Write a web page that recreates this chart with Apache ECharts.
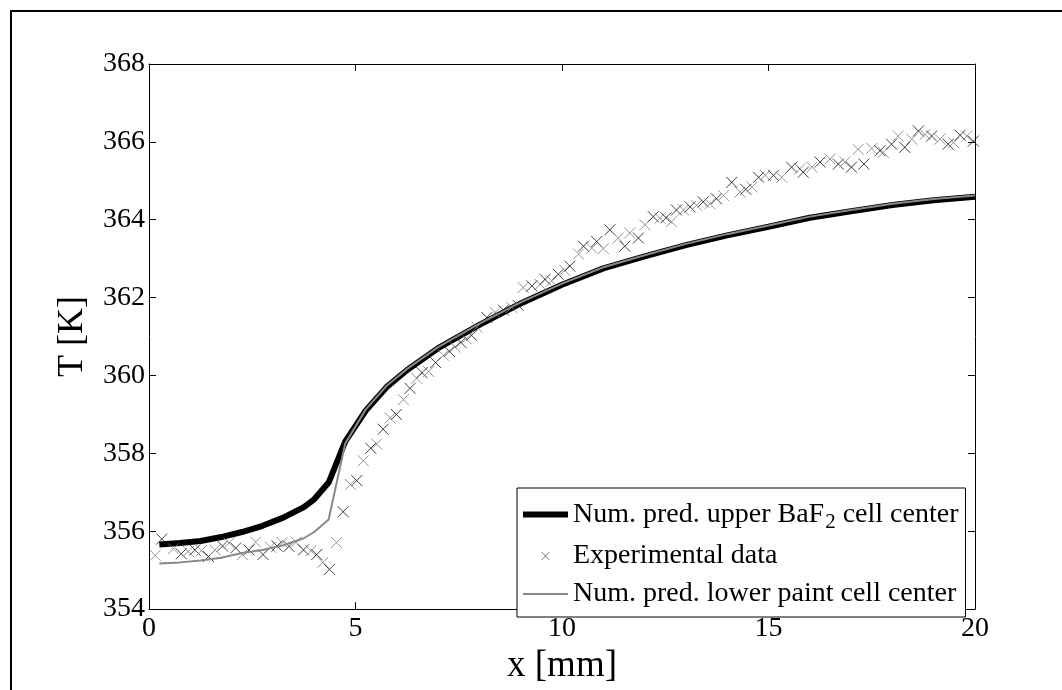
<!DOCTYPE html>
<html>
<head>
<meta charset="utf-8">
<script src="https://cdn.jsdelivr.net/npm/echarts@6/dist/echarts.min.js"></script>
<style>
html,body{margin:0;padding:0;background:#fff;}
#chart{width:1062px;height:690px;}
</style>
</head>
<body>
<div id="chart"></div>
<script>
// ---- data ----
var predX  = [0.25,0.75,1.25,1.75,2.25,2.75,3.25,3.75,4.0,4.35,4.75,5.25,5.75,6.25,7,8,9,10,11,12,13,14,15,16,17,18,19,20];
var upperT = [355.66,355.70,355.75,355.85,355.98,356.14,356.35,356.62,356.82,357.25,358.30,359.10,359.70,360.14,360.70,361.30,361.85,362.33,362.75,363.06,363.35,363.60,363.82,364.05,364.22,364.38,364.50,364.59];
var lowerT = [355.17,355.20,355.25,355.32,355.44,355.52,355.64,355.82,355.98,356.30,358.25,359.13,359.73,360.17,360.73,361.33,361.88,362.36,362.78,363.09,363.38,363.63,363.85,364.08,364.25,364.41,364.53,364.62];
var expX = [0.15,0.31,0.59,0.78,0.95,1.11,1.27,1.44,1.60,1.78,1.94,2.10,2.26,2.42,2.58,2.76,2.94,3.10,3.22,3.39,3.56,3.74,3.92,4.06,4.21,4.37,4.54,4.70,4.88,5.03,5.19,5.37,5.51,5.67,5.84,5.99,6.16,6.32,6.48,6.61,6.77,6.94,7.13,7.27,7.41,7.55,7.68,7.81,7.94,8.18,8.38,8.58,8.78,8.94,9.06,9.27,9.47,9.59,9.75,9.91,10.07,10.19,10.40,10.52,10.72,10.84,11.00,11.16,11.36,11.52,11.64,11.85,12.01,12.21,12.37,12.52,12.65,12.77,12.94,13.10,13.26,13.42,13.58,13.74,13.91,14.11,14.31,14.45,14.60,14.76,14.92,15.12,15.32,15.56,15.76,15.84,16.05,16.25,16.49,16.69,16.85,17.01,17.17,17.31,17.50,17.70,17.78,17.98,18.14,18.30,18.47,18.63,18.79,18.95,19.15,19.35,19.48,19.64,19.80,19.96];
var expT = [355.38,355.80,355.55,355.42,355.48,355.52,355.50,355.35,355.52,355.62,355.70,355.57,355.40,355.52,355.72,355.40,355.59,355.62,355.71,355.61,355.72,355.52,355.50,355.40,355.20,355.02,355.71,356.50,357.20,357.30,357.81,358.13,358.24,358.62,358.91,359.00,359.38,359.67,359.93,360.07,360.10,360.33,360.52,360.62,360.73,360.85,360.94,361.03,361.24,361.49,361.62,361.68,361.75,361.80,362.26,362.30,362.34,362.47,362.43,362.60,362.70,362.81,363.12,363.32,363.27,363.44,363.26,363.74,363.53,363.32,363.66,363.53,363.87,364.08,364.04,364.05,363.95,364.25,364.25,364.33,364.37,364.46,364.41,364.54,364.62,364.96,364.71,364.78,364.84,365.09,365.14,365.14,365.09,365.35,365.31,365.22,365.35,365.48,365.56,365.43,365.48,365.35,365.81,365.43,365.83,365.77,365.73,365.94,366.15,365.86,366.07,366.28,366.19,366.15,366.07,365.94,365.98,366.17,366.15,366.02];
var xTicks = {min:0, max:20, interval:5};
var yTicks = {min:354, max:368, interval:2};
var nameUpper = 'Num. pred. upper BaF2 cell center';
var nameExp = 'Experimental data';
var nameLower = 'Num. pred. lower paint cell center';
var xTitle = 'x [mm]';
var yTitle = 'T [K]';

function pairs(xs, ys){ return xs.map(function(x,i){ return [x, ys[i]]; }); }

var FONT = 'Liberation Serif';
var chart = echarts.init(document.getElementById('chart'), null, {renderer:'canvas'});

var expData = expX.map(function(x,i){
  return {value:[x, expT[i]], itemStyle:{borderColor: (i % 2 === 0) ? '#7a7a7a' : '#111'}};
});

var crossPath = 'path://M0,0L10,10M10,0L0,10';

var axisCommon = {
  type:'value',
  axisLine:{show:true, onZero:false, lineStyle:{color:'#000', width:1}},
  axisTick:{show:true, inside:true, length:7, lineStyle:{color:'#000', width:1}},
  splitLine:{show:false}
};

var option = {
  animation:false,
  backgroundColor:'#fff',
  grid:{left:149, right:87, top:64, bottom:75, containLabel:false},
  graphic:[{
    type:'rect', silent:true, z:-1,
    shape:{x:11, y:11, width:1200, height:900},
    style:{fill:'none', stroke:'#000', lineWidth:2}
  }],
  xAxis:[
    Object.assign({}, axisCommon, {
      position:'bottom', min:xTicks.min, max:xTicks.max, interval:xTicks.interval,
      name:xTitle, nameLocation:'middle', nameGap:31,
      nameTextStyle:{fontFamily:FONT, fontSize:37, color:'#000'},
      axisLabel:{fontFamily:FONT, fontSize:28, color:'#000', margin:6}
    }),
    Object.assign({}, axisCommon, {
      position:'top', min:xTicks.min, max:xTicks.max, interval:xTicks.interval,
      axisLabel:{show:false}
    })
  ],
  yAxis:[
    Object.assign({}, axisCommon, {
      position:'left', min:yTicks.min, max:yTicks.max, interval:yTicks.interval,
      name:yTitle, nameLocation:'middle', nameGap:58, nameRotate:90,
      nameTextStyle:{fontFamily:FONT, fontSize:36, color:'#000'},
      axisLabel:{fontFamily:FONT, fontSize:28, color:'#000', margin:4}
    }),
    Object.assign({}, axisCommon, {
      position:'right', min:yTicks.min, max:yTicks.max, interval:yTicks.interval,
      axisLabel:{show:false}
    })
  ],
  legend:{
    orient:'vertical', left:517, top:488,
    padding:[8,7,8,6], itemGap:8, itemWidth:45, itemHeight:14,
    borderColor:'#000', borderWidth:1, backgroundColor:'#fff',
    selectedMode:false,
    textStyle:{fontFamily:FONT, fontSize:28, color:'#000', lineHeight:30,
      rich:{
        a:{fontFamily:FONT, fontSize:28, color:'#000', lineHeight:30},
        s:{fontFamily:FONT, fontSize:21, color:'#000', lineHeight:30, padding:[16,0,0,1]}
      }
    },
    formatter:function(n){
      if (n === nameUpper) return '{a|Num. pred. upper BaF}{s|2}{a| cell center}';
      return n;
    },
    data:[
      {name:nameUpper, icon:'path://M0,0h45v6h-45z', itemStyle:{color:'#000', borderWidth:0}},
      {name:nameExp, icon:'path://M3,3L11,11M11,3L3,11M0,0M14,14', itemStyle:{color:'none', borderColor:'#555', borderWidth:1}},
      {name:nameLower, icon:'path://M0,0h45v2h-45z', itemStyle:{color:'#888', borderWidth:0}}
    ]
  },
  series:[
    {
      name:nameUpper, type:'line', xAxisIndex:0, yAxisIndex:0,
      data:pairs(predX, upperT), showSymbol:false, symbol:'none',
      lineStyle:{color:'#000', width:6}, itemStyle:{color:'#000'}, z:2
    },
    {
      name:nameExp, type:'scatter', xAxisIndex:0, yAxisIndex:0,
      data:expData, symbol:crossPath, symbolSize:11,
      itemStyle:{color:'none', borderColor:'#555', borderWidth:1}, z:3
    },
    {
      name:nameLower, type:'line', xAxisIndex:0, yAxisIndex:0,
      data:pairs(predX, lowerT), showSymbol:false, symbol:'none',
      lineStyle:{color:'#888', width:2}, itemStyle:{color:'#888'}, z:4
    }
  ]
};
chart.setOption(option);
</script>
</body>
</html>
